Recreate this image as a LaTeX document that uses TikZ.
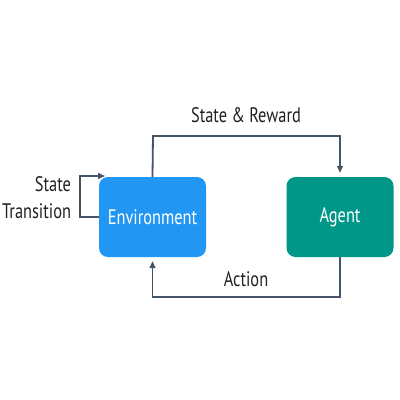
\documentclass[tikz,border=0pt]{standalone}
\usepackage{fontspec}
\setmainfont{PT Sans}[FakeStretch=0.78]
\usetikzlibrary{arrows.meta}
\definecolor{envblue}{RGB}{33,150,243}
\definecolor{agentteal}{RGB}{0,150,136}
\definecolor{linkgray}{RGB}{69,84,102}
\definecolor{labelgray}{RGB}{33,33,33}
\begin{document}
\begin{tikzpicture}[x=1pt,y=1pt,yscale=-1,xscale=1,
  box/.style={rounded corners=9pt,minimum width=107pt,minimum height=80pt,inner sep=0pt,text=white,font=\fontsize{21}{24}\selectfont},
  link/.style={draw=linkgray,line width=1.8pt,-{Triangle[width=6pt,length=7pt]}},
  lbl/.style={text=labelgray,inner sep=0.75pt,font=\fontsize{21}{24}\selectfont}]
\useasboundingbox (0,0) rectangle (400,400);

%Shape: Rounded Rect [id:env]
\node [box,fill=envblue] (env) at (152.5,217) {Environment};
%Shape: Rounded Rect [id:agent]
\node [box,fill=agentteal] (agent) at (340,217) {Agent};

%Straight Lines [id:reward]
\draw [link] (env.north) -- (153,136) -| ([yshift=-4pt]agent.north);
%Straight Lines [id:action]
\draw [link] (agent.south) -- (340,297) -| ([yshift=4pt]env.south);
%Straight Lines [id:loop]
\coordinate (loopend) at (105,176);
\draw [link] (env.west) -- (80,217) |- (loopend);

% Text Node
\draw (246,115.5) node [lbl] (lblreward) {State \& Reward};
% Text Node
\draw (246,279) node [lbl] (lblaction) {Action};
% Text Node
\draw (72,184) node [lbl,anchor=east] (lblstate) {State};
% Text Node
\draw (72,211) node [lbl,anchor=east] (lbltrans) {Transition};

\end{tikzpicture}
\end{document}
